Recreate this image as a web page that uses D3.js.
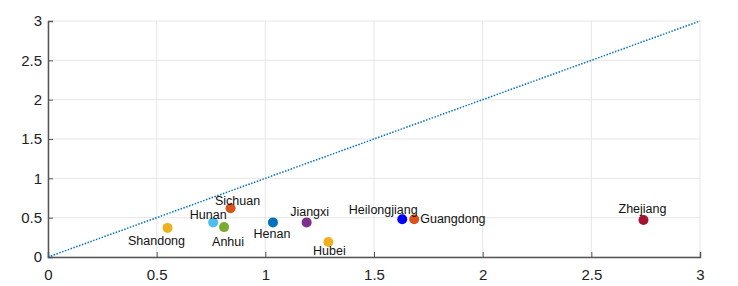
<!DOCTYPE html>
<html>
<head>
<meta charset="utf-8">
<script src="https://cdn.jsdelivr.net/npm/d3@7"></script>
<style>
  body { margin: 0; background: #fff; }
  svg { font-family: "Liberation Sans", Arial, sans-serif; }
</style>
</head>
<body>
<div id="chart"></div>
<script>
// data
const provinces = ["Shandong", "Hunan", "Sichuan", "Anhui", "Henan", "Jiangxi", "Hubei", "Heilongjiang", "Guangdong", "Zhejiang"];
const xValues = [0.55, 0.76, 0.84, 0.81, 1.035, 1.19, 1.29, 1.63, 1.685, 2.74];
const yValues = [0.37, 0.44, 0.62, 0.38, 0.44, 0.44, 0.19, 0.48, 0.48, 0.47];
const colors = ["#EDB120", "#4DBEEE", "#D95319", "#77AC30", "#0072BD", "#7E2F8E", "#EDB120", "#0000FF", "#D95319", "#A2142F"];
const xTicks = [0, 0.5, 1, 1.5, 2, 2.5, 3];
const yTicks = [0, 0.5, 1, 1.5, 2, 2.5, 3];

// label offsets (px) relative to the point, plus anchor
const labelDx = [-11, -5, 7, 4, -1, 3, 1, -19, 6, -1];
const labelDy = [17, -3, -3, 19, 16, -6, 13, -5, 4, -7];
const labelAnchor = ["middle", "middle", "middle", "middle", "middle", "middle", "middle", "middle", "start", "middle"];

const W = 738, H = 286;
const margin = { top: 21, right: 38, bottom: 29, left: 48 };
const width = W - margin.left - margin.right;
const height = H - margin.top - margin.bottom;

const svg = d3.select("#chart").append("svg")
    .attr("width", W)
    .attr("height", H)
    .append("g")
    .attr("transform", `translate(${margin.left}, ${margin.top})`);

const x = d3.scaleLinear().domain([0, 3]).range([0, width]);
const y = d3.scaleLinear().domain([0, 3]).range([height, 0]);

// grid
svg.append("g").selectAll("line")
    .data(xTicks)
    .enter().append("line")
    .attr("x1", d => x(d)).attr("x2", d => x(d))
    .attr("y1", 0).attr("y2", height)
    .attr("stroke", "#e6e6e6").attr("stroke-width", 1);
svg.append("g").selectAll("line")
    .data(yTicks)
    .enter().append("line")
    .attr("x1", 0).attr("x2", width)
    .attr("y1", d => y(d)).attr("y2", d => y(d))
    .attr("stroke", "#e6e6e6").attr("stroke-width", 1);

// axes (ticks pointing inward)
const xAxis = d3.axisBottom(x).tickValues(xTicks).tickSize(-5).tickPadding(12).tickFormat(d3.format("~g"));
const yAxis = d3.axisLeft(y).tickValues(yTicks).tickSize(-5).tickPadding(6).tickFormat(d3.format("~g"));

const gx = svg.append("g")
    .attr("transform", `translate(0, ${height})`)
    .call(xAxis);
const gy = svg.append("g").call(yAxis);

[gx, gy].forEach(g => {
    g.select(".domain").attr("stroke", "#555").attr("stroke-width", 1.5);
    g.selectAll(".tick line").attr("stroke", "#555").attr("stroke-width", 1);
    g.selectAll(".tick text").attr("fill", "#222").style("font-size", "15px");
});

// y = x reference line
svg.append("line")
    .attr("x1", x(0)).attr("y1", y(0))
    .attr("x2", x(3)).attr("y2", y(3))
    .attr("stroke", "#0072BD")
    .attr("stroke-width", 1.5)
    .attr("stroke-dasharray", "1.5,1.5");

// points
svg.selectAll("circle.pt")
    .data(provinces)
    .enter().append("circle")
    .attr("class", "pt")
    .attr("cx", (d, i) => x(xValues[i]))
    .attr("cy", (d, i) => y(yValues[i]))
    .attr("r", 5)
    .attr("fill", (d, i) => colors[i]);

// labels
svg.selectAll("text.lbl")
    .data(provinces)
    .enter().append("text")
    .attr("class", "lbl")
    .attr("x", (d, i) => x(xValues[i]) + labelDx[i])
    .attr("y", (d, i) => y(yValues[i]) + labelDy[i])
    .attr("text-anchor", (d, i) => labelAnchor[i])
    .attr("fill", "#111")
    .style("font-size", "12.5px")
    .text(d => d);
</script>
</body>
</html>
